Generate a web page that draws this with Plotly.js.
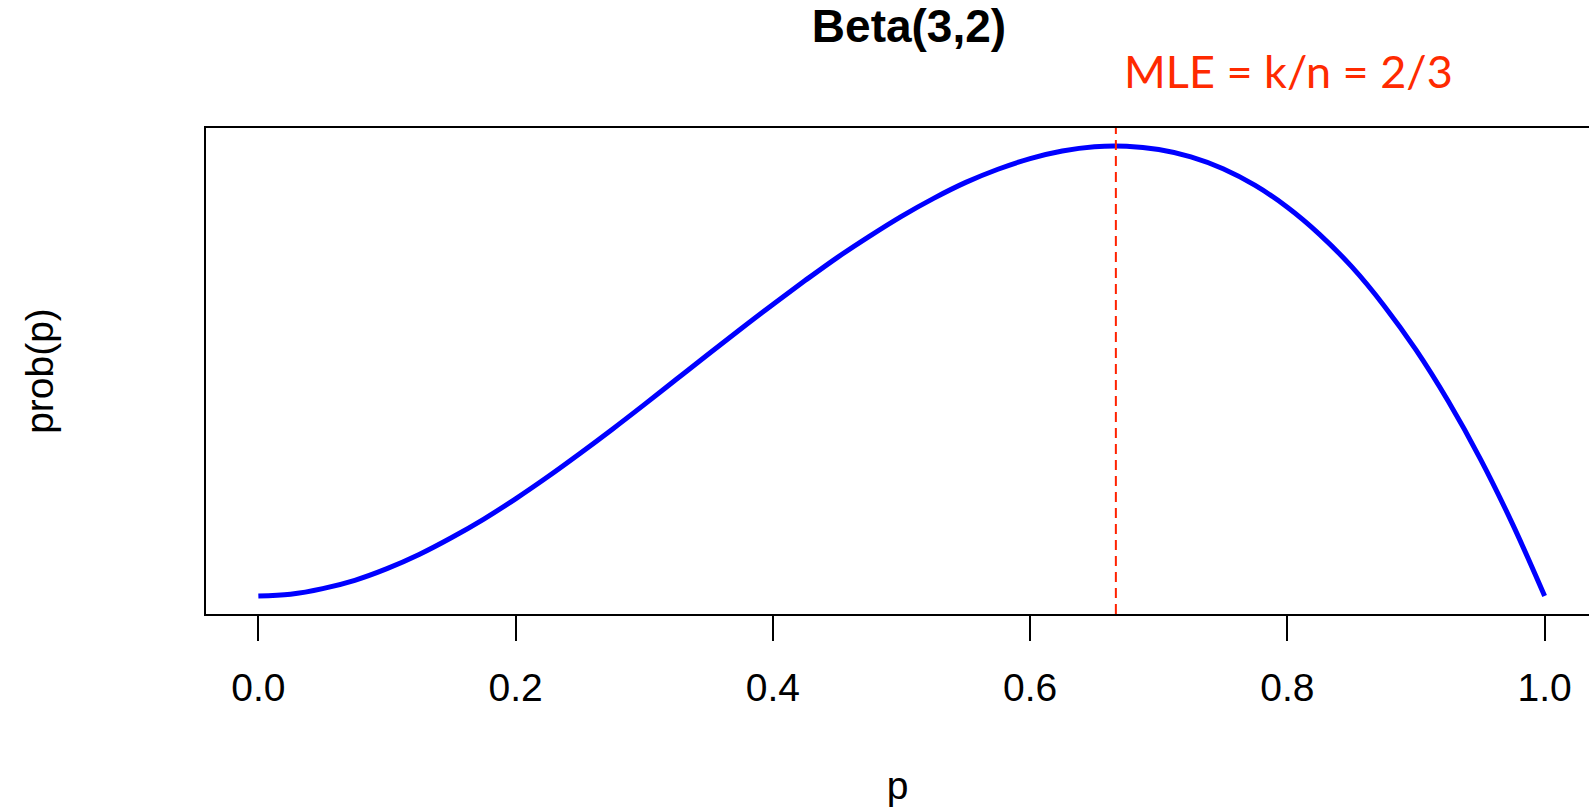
<!DOCTYPE html>
<html>
<head>
<meta charset="utf-8">
<script src="https://cdn.plot.ly/plotly-3.0.1.min.js"></script>
<style>html,body{margin:0;padding:0;background:#fff;}#chart{width:1589px;height:807px;}</style>
</head>
<body>
<div id="chart"></div>
<script>
// Values (height of the curve at each p)
var pValues = [0, 0.025, 0.05, 0.075, 0.10, 0.125, 0.15, 0.175, 0.20, 0.225, 0.25, 0.275, 0.30, 0.325, 0.35, 0.375, 0.40, 0.425, 0.45, 0.475, 0.50, 0.525, 0.55, 0.575, 0.60, 0.625, 0.65, 0.675, 0.70, 0.725, 0.75, 0.775, 0.80, 0.825, 0.85, 0.875, 0.90, 0.925, 0.95, 0.975, 1.00];
var probValues = [0, 0.007, 0.029, 0.062, 0.108, 0.164, 0.230, 0.303, 0.384, 0.471, 0.563, 0.658, 0.756, 0.856, 0.956, 1.055, 1.152, 1.246, 1.337, 1.421, 1.500, 1.571, 1.634, 1.686, 1.728, 1.758, 1.775, 1.777, 1.764, 1.735, 1.688, 1.622, 1.536, 1.429, 1.301, 1.148, 0.972, 0.770, 0.542, 0.285, 0];
var xTickVals = [0, 0.2, 0.4, 0.6, 0.8, 1.0];
var xTickText = ["0.0", "0.2", "0.4", "0.6", "0.8", "1.0"];
var mleValue = 2/3;
var titleText = "Beta(3,2)";
var mleText = "MLE = k/n = 2/3";

var trace = {
  x: pValues, y: probValues, type: 'scatter', mode: 'lines',
  line: {color: '#0000FF', width: 5, shape: 'spline', smoothing: 1},
  hoverinfo: 'skip', showlegend: false
};

var layout = {
  width: 1589, height: 807,
  paper_bgcolor: '#fff', plot_bgcolor: '#fff',
  margin: {l: 206, r: 0, t: 128, b: 193},
  showlegend: false,
  title: {
    text: '<b>' + titleText + '</b>',
    font: {family: 'Liberation Sans, Arial, sans-serif', size: 46, color: '#000'},
    x: 909/1589, xref: 'container', xanchor: 'center',
    y: 1 - 26/807, yref: 'container', yanchor: 'middle'
  },
  xaxis: {
    range: [-0.0407, 1.0345], showgrid: false, zeroline: false,
    showline: true, linecolor: '#000', linewidth: 2, mirror: true,
    ticks: 'outside', ticklen: 25, tickwidth: 2, tickcolor: '#000',
    tickvals: xTickVals, ticktext: xTickText, ticklabelstandoff: 13,
    tickfont: {family: 'Liberation Sans, Arial, sans-serif', size: 39, color: '#000'},
    title: {text: 'p', font: {family: 'Liberation Sans, Arial, sans-serif', size: 39, color: '#000'}, standoff: 64},
    automargin: false
  },
  yaxis: {
    range: [-0.0711, 1.8489], showgrid: false, zeroline: false,
    showline: true, linecolor: '#000', linewidth: 2, mirror: false,
    ticks: '', showticklabels: false,
    title: {text: 'prob(p)', font: {family: 'Liberation Sans, Arial, sans-serif', size: 39, color: '#000'}, standoff: 138},
    automargin: false
  },
  shapes: [{
    type: 'line', xref: 'x', yref: 'paper', x0: mleValue, x1: mleValue, y0: 0, y1: 1,
    line: {color: '#FF2200', width: 2, dash: '10px,6px'}
  }],
  annotations: [{
    text: mleText, xref: 'x', yref: 'paper', x: mleValue, y: (614-71)/486,
    xanchor: 'left', yanchor: 'middle', xshift: 6, showarrow: false,
    font: {family: 'Lato, Open Sans, sans-serif', size: 45, color: '#FF2A00'}
  }]
};

Plotly.newPlot('chart', [trace], layout, {displayModeBar: false, staticPlot: true});
</script>
</body>
</html>
